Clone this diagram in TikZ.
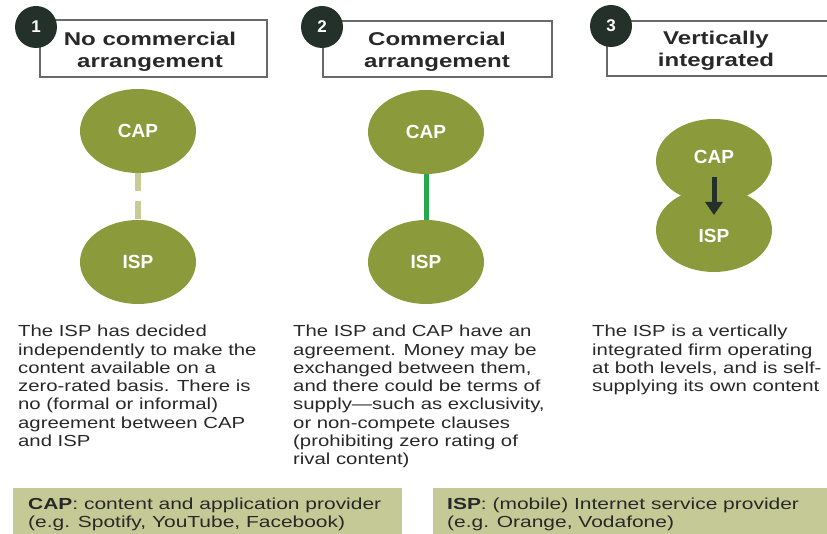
\documentclass[tikz,border=0pt]{standalone}
\usepackage{fontspec}
\setmainfont{Liberation Sans}
\newfontfamily\wide{Liberation Sans}[FakeStretch=1.27]
\newfontfamily\widet{Liberation Sans}[FakeStretch=1.3]
\newfontfamily\widek{Liberation Sans}[FakeStretch=1.31]
\usetikzlibrary{shapes.geometric,arrows.meta}
\definecolor{olive}{RGB}{139,154,59}
\definecolor{khaki}{RGB}{197,201,150}
\definecolor{dashkhaki}{RGB}{200,203,150}
\definecolor{lgreen}{RGB}{38,168,78}
\definecolor{darkc}{RGB}{36,48,42}
\definecolor{boxgray}{RGB}{105,105,105}
\definecolor{txt}{RGB}{40,40,40}
\tikzset{
  titlebox/.style={draw=boxgray,line width=1.5pt,fill=white},
  badge/.style={circle,fill=darkc,minimum size=42pt,inner sep=0pt,text=white,font=\bfseries\fontsize{17}{17}\selectfont},
  titletext/.style={align=center,text=txt,font=\widet\bfseries\fontsize{18.5}{22}\selectfont},
  blob/.style={ellipse,fill=olive,minimum width=116pt,minimum height=84pt,inner sep=0pt,text=white,font=\bfseries\fontsize{19}{19}\selectfont},
  bloblabel/.style={text=white,font=\bfseries\fontsize{19}{19}\selectfont,inner sep=0pt},
  desc/.style={anchor=north west,align=left,inner sep=0pt,text=txt,font=\wide\fontsize{16}{18.3}\selectfont},
  keybox/.style={fill=khaki,draw=none},
  keytext/.style={anchor=north west,align=left,inner sep=0pt,text=txt,font=\widek\fontsize{16}{17.5}\selectfont}
}
\begin{document}
\begin{tikzpicture}[x=1pt,y=-1pt]
\clip (0,0) rectangle (827,534);
\fill[white] (0,0) rectangle (827,534);
% title boxes
\draw[titlebox] (40,20) rectangle (267,77);
\draw[titlebox] (323,21) rectangle (552,77);
\draw[titlebox] (607,21) rectangle (845,76);
\node[titletext] (t1) at (150,52) {No commercial\\arrangement};
\node[titletext] (t2) at (437,52) {Commercial\\arrangement};
\node[titletext] (t3) at (716,51) {Vertically\\integrated};
\node[badge] (b1) at (36,27) {1};
\node[badge] (b2) at (322,27) {2};
\node[badge] (b3) at (611,26) {3};
% panel 1
\node[blob] (cap1) at (138,131) {CAP};
\node[blob] (isp1) at (138,262) {ISP};
\draw[dashkhaki,line width=6pt,dash pattern=on 18pt off 10pt] (cap1.south) -- (isp1.north);
% panel 2
\node[blob] (cap2) at (426,132) {CAP};
\node[blob] (isp2) at (426,262) {ISP};
\draw[lgreen,line width=5pt] (cap2.south) -- (isp2.north);
% panel 3
\node[blob] (cap3) at (714,161) {};
\node[blob] (isp3) at (714,230) {};
\node[bloblabel] (cap3l) at (714,157) {CAP};
\node[bloblabel] (isp3l) at (714,236) {ISP};
\coordinate (a3s) at (714,177);
\coordinate (a3e) at (714,215);
\draw[darkc,line width=5pt,-{Triangle[width=17pt,length=13pt]}] (a3s) -- (a3e);
% descriptions
\node[desc] (d1) at (18,325) {The ISP has decided\\independently to make the\\content available on a\\zero-rated basis. There is\\no (formal or informal)\\agreement between CAP\\and ISP};
\node[desc] (d2) at (293,325) {The ISP and CAP have an\\agreement. Money may be\\exchanged between them,\\and there could be terms of\\supply—such as exclusivity,\\or non-compete clauses\\(prohibiting zero rating of\\rival content)};
\node[desc] (d3) at (592,325) {The ISP is a vertically\\integrated firm operating\\at both levels, and is self-\\supplying its own content};
% key boxes
\fill[keybox] (13,488) rectangle (402,540);
\fill[keybox] (433,488) rectangle (845,540);
\node[keytext] (k1) at (28,498) {\textbf{CAP}: content and application provider\\(e.g. Spotify, YouTube, Facebook)};
\node[keytext] (k2) at (447,498) {\textbf{ISP}: (mobile) Internet service provider\\(e.g. Orange, Vodafone)};
\end{tikzpicture}
\end{document}
